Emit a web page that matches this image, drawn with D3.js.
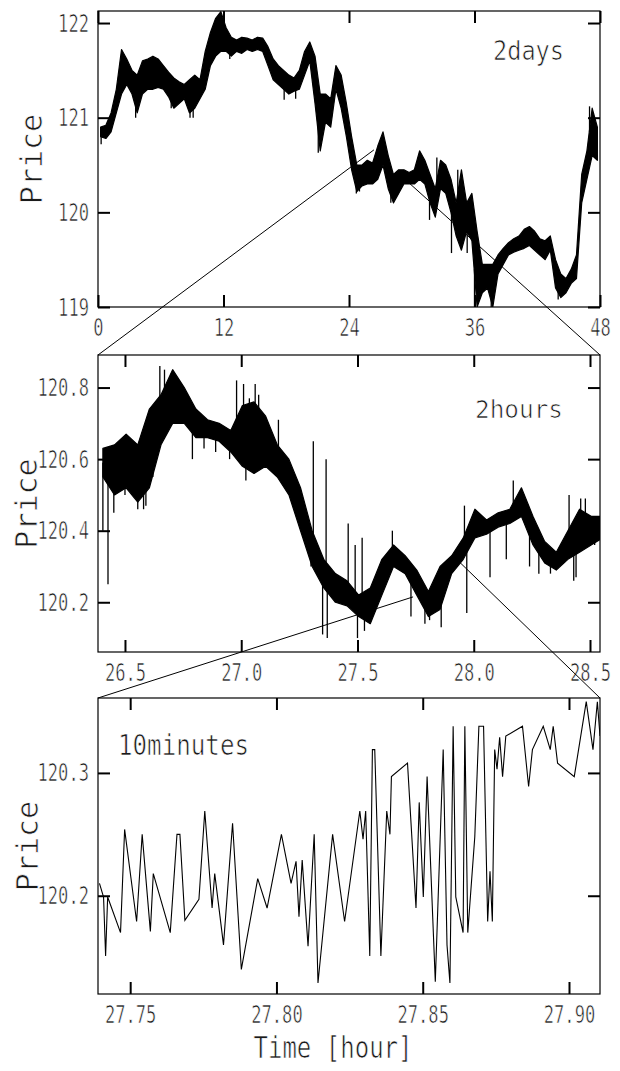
<!DOCTYPE html>
<html><head><meta charset="utf-8">
<script src="https://cdn.jsdelivr.net/npm/d3@7"></script>
<style>body{margin:0;background:#fff}svg{display:block}
text{paint-order:fill;stroke:#fff;stroke-width:0.7px}</style>
</head><body>
<svg id="chart" width="620" height="1071"></svg>
<script>
// ---- 2 days: half-hour low/high ranges of the tick price ----
const dayStart = 0, dayStep = 0.5;
const dayLow = [120.80,120.78,120.85,121.05,121.25,121.35,121.25,121.05,121.25,121.30,121.30,121.32,121.30,121.22,121.10,121.15,121.20,121.05,121.10,121.20,
  121.30,121.55,121.65,121.70,121.70,121.65,121.70,121.68,121.72,121.70,121.72,121.70,121.55,121.40,121.35,121.30,121.25,121.28,121.30,121.45,
  121.60,121.15,120.65,120.95,120.90,121.30,121.10,120.80,120.45,120.22,120.28,120.30,120.30,120.35,120.50,120.25,120.10,120.20,120.30,120.30,
  120.30,120.35,120.30,120.10,119.95,120.25,120.20,120.00,119.75,119.60,119.80,119.70,119.00,119.15,119.20,119.00,119.35,119.45,119.55,119.58,
  119.60,119.62,119.65,119.60,119.55,119.50,119.60,119.20,119.10,119.15,119.25,119.30,120.10,120.35,120.60,120.55];
const dayHigh = [120.90,120.92,121.05,121.30,121.72,121.62,121.50,121.45,121.60,121.62,121.65,121.62,121.55,121.48,121.42,121.38,121.35,121.40,121.45,121.40,
  121.70,121.90,122.05,122.12,121.95,121.85,121.82,121.85,121.84,121.82,121.85,121.84,121.75,121.62,121.55,121.50,121.45,121.42,121.50,121.70,
  121.80,121.65,121.25,121.25,121.20,121.55,121.45,121.15,120.80,120.50,120.50,120.55,120.52,120.70,120.85,120.60,120.40,120.45,120.45,120.42,
  120.45,120.65,120.55,120.40,120.25,120.55,120.50,120.35,120.10,120.45,120.10,120.20,119.80,119.45,119.45,119.45,119.55,119.62,119.68,119.72,
  119.75,119.82,119.85,119.80,119.72,119.70,119.75,119.50,119.35,119.30,119.40,119.55,120.40,120.65,121.10,120.90];
const daySpikeTime  = [0.3, 3.6, 7.0, 8.8, 9.1, 12.6, 17.8, 18.9, 21.06, 24.7, 25.0, 28.0, 31.7, 32.4, 33.8, 34.4, 35.3, 36.0, 37.6, 44.0, 47.0];
const daySpikePrice = [120.72,121.00,121.10,121.00,121.00,121.62,121.19,121.20,120.63,120.20,120.22,120.10,119.92,120.58,119.57,120.45,119.57,119.00,119.00,119.08,121.12];

// ---- 2 hours: 3-minute low/high ranges plus isolated spikes ----
const hourStart = 26.38, hourStep = 0.05;
const hourLow = [120.55,120.50,120.52,120.48,120.52,120.64,120.70,120.70,120.66,120.66,120.65,120.62,120.58,120.56,120.58,120.55,120.50,120.40,120.30,120.24,
  120.20,120.19,120.16,120.14,120.22,120.30,120.28,120.22,120.16,120.18,120.28,120.32,120.38,120.39,120.41,120.42,120.44,120.36,120.31,120.29,
  120.32,120.34,120.36,120.38];
const hourHigh = [120.63,120.64,120.67,120.64,120.74,120.78,120.85,120.80,120.74,120.71,120.70,120.68,120.75,120.76,120.72,120.64,120.60,120.52,120.40,120.32,
  120.28,120.26,120.22,120.24,120.32,120.36,120.33,120.29,120.23,120.30,120.33,120.38,120.46,120.43,120.45,120.46,120.52,120.44,120.37,120.34,
  120.40,120.46,120.44,120.44];
const hourSpikeTime  = [26.405,26.427,26.452,26.50,26.555,26.58,26.59,26.62,26.65,26.67,26.70,26.79,26.84,26.89,26.95,26.98,27.01,27.02,27.035,27.06,27.075,
  27.16,27.30,27.31,27.35,27.365,27.37,27.46,27.49,27.50,27.52,27.53,27.65,27.73,27.79,27.81,27.86,27.96,27.97,28.07,28.14,28.17,28.24,28.27,28.28,28.33,28.41,28.43,28.44,28.46,28.48,28.52];
const hourSpikePrice = [120.40,120.25,120.45,120.50,120.46,120.46,120.47,120.55,120.86,120.85,120.84,120.60,120.63,120.62,120.60,120.82,120.81,120.54,120.77,120.81,120.78,
  120.71,120.30,120.65,120.11,120.60,120.10,120.42,120.36,120.10,120.38,120.12,120.40,120.16,120.14,120.15,120.13,120.47,120.17,120.27,120.32,120.54,120.30,120.41,120.28,120.28,120.50,120.26,120.27,120.49,120.49,120.36];

// ---- 10 minutes: individual ticks ----
const minTime = [27.7395,27.7409,27.7416,27.7423,27.7467,27.7481,27.7522,27.7541,27.7569,27.7579,27.7637,27.7660,27.7670,27.7687,27.7735,27.7755,27.7780,27.7789,27.7819,27.7850,
  27.7880,27.7936,27.7968,27.8017,27.8050,27.8067,27.8077,27.8088,27.8108,27.8129,27.8142,27.8192,27.8233,27.8285,27.8296,27.8305,27.8319,27.8328,27.8336,27.8357,
  27.8377,27.8388,27.8393,27.8448,27.8477,27.8488,27.8502,27.8515,27.8543,27.8570,27.8583,27.8593,27.8604,27.8613,27.8638,27.8644,27.8654,27.8678,27.8692,27.8708,
  27.8722,27.8730,27.8738,27.8746,27.8754,27.8763,27.8773,27.8784,27.8841,27.8862,27.8875,27.8912,27.8936,27.8946,27.8961,27.9018,27.9059,27.9082,27.9097,27.9106];
const minPrice = [120.210,120.199,120.151,120.199,120.170,120.254,120.179,120.250,120.171,120.218,120.170,120.250,120.250,120.180,120.197,120.269,120.190,120.218,120.160,120.259,
  120.140,120.214,120.190,120.250,120.210,120.228,120.183,120.229,120.159,120.250,120.129,120.250,120.179,120.269,120.246,120.269,120.151,120.319,120.319,120.151,
  120.269,120.250,120.297,120.308,120.190,120.276,120.199,120.297,120.130,120.319,120.160,120.129,120.338,120.199,120.170,120.338,120.170,120.248,120.338,120.338,
  120.179,120.220,120.179,120.319,120.303,120.329,120.297,120.330,120.338,120.289,120.319,120.338,120.319,120.338,120.308,120.297,120.358,120.319,120.358,120.330];

// ---- axes ----
const dayTicksX = [0,12,24,36,48], dayTicksY = [119,120,121,122];
const hourTicksX = [26.5,27.0,27.5,28.0,28.5], hourTicksY = [120.2,120.4,120.6,120.8];
const minTicksX = [27.75,27.80,27.85,27.90], minTicksY = [120.2,120.3];

// zoom windows: [start time, end time, price at start, price at end]
const hourWindow = [26.384, 28.543, 120.66, 120.43];
const minWindow  = [27.739, 27.9106, 120.215, 120.33];

const svg = d3.select("#chart");
const FONT = "DejaVu Sans Mono";
const INK = "#1a1a1a";

const panels = [
  {top:11, bottom:307, x:[0,48], y:[119,122.127], tx:dayTicksX, ty:dayTicksY, fx:d3.format("d"), fy:d3.format("d"),
   title:"2days", titleX:493, titleY:60, titleW:71, titleSize:26, priceX:31},
  {top:355, bottom:652, x:[26.384,28.543], y:[120.061,120.891], tx:hourTicksX, ty:hourTicksY, fx:d3.format(".1f"), fy:d3.format(".1f"),
   title:"2hours", titleX:475, titleY:418, titleW:88, titleSize:25, priceX:26},
  {top:698, bottom:994, x:[27.739,27.9106], y:[120.12,120.361], tx:minTicksX, ty:minTicksY, fx:d3.format(".2f"), fy:d3.format(".1f"),
   title:"10minutes", titleX:118, titleY:755, titleW:131, titleSize:28, priceX:27}
];
const L = 98, R = 600;

panels.forEach(p => {
  p.xs = d3.scaleLinear().domain(p.x).range([L, R]);
  p.ys = d3.scaleLinear().domain(p.y).range([p.bottom, p.top]);
  const g = svg.append("g");
  p.g = g;
  const clipId = "clip" + p.top;
  svg.append("clipPath").attr("id", clipId).append("rect")
    .attr("x", L).attr("y", p.top).attr("width", R - L).attr("height", p.bottom - p.top);
  p.plot = g.append("g").attr("clip-path", `url(#${clipId})`);
});

function squeeze(sel, perChar) {
  sel.each(function () {
    const s = this.textContent;
    d3.select(this).attr("textLength", s.length * perChar).attr("lengthAdjust", "spacingAndGlyphs");
  });
}

// band drawing for the dense series
function drawBand(p, start, step, lo, hi, spikeT, spikeP) {
  const idx = d3.range(lo.length);
  const area = d3.area()
    .x(i => p.xs(start + i * step + step / 2))
    .y0(i => p.ys(lo[i])).y1(i => p.ys(hi[i]));
  p.plot.append("path").datum(idx).attr("d", area)
    .attr("fill", "#000").attr("stroke", "#000").attr("stroke-width", 1.2).attr("stroke-linejoin", "round");
  p.plot.selectAll("line.spike").data(spikeT).join("line").attr("class", "spike")
    .attr("x1", (t) => p.xs(t)).attr("x2", (t) => p.xs(t))
    .attr("y1", (t) => {
      const i = Math.max(0, Math.min(lo.length - 1, Math.floor((t - start) / step)));
      return p.ys((lo[i] + hi[i]) / 2);
    })
    .attr("y2", (t, k) => p.ys(spikeP[k]))
    .attr("stroke", "#000").attr("stroke-width", 1.3);
}

drawBand(panels[0], dayStart, dayStep, dayLow, dayHigh, daySpikeTime, daySpikePrice);
drawBand(panels[1], hourStart, hourStep, hourLow, hourHigh, hourSpikeTime, hourSpikePrice);

{
  const p = panels[2];
  const line = d3.line().x(i => p.xs(minTime[i])).y(i => p.ys(minPrice[i]));
  p.plot.append("path").datum(d3.range(minTime.length)).attr("d", line)
    .attr("fill", "none").attr("stroke", "#000").attr("stroke-width", 1.1).attr("stroke-linejoin", "miter");
}

// frames, ticks and labels
panels.forEach(p => {
  const g = p.g;
  const tick = 12;
  g.append("rect").attr("x", L).attr("y", p.top).attr("width", R - L).attr("height", p.bottom - p.top)
    .attr("fill", "none").attr("stroke", "#000").attr("stroke-width", 1.2);

  const ax = [
    g.append("g").attr("transform", `translate(${L},0)`).call(d3.axisLeft(p.ys).tickValues(p.ty).tickFormat(p.fy).tickSize(-tick).tickPadding(9)),
    g.append("g").attr("transform", `translate(${R},0)`).call(d3.axisRight(p.ys).tickValues(p.ty).tickFormat("").tickSize(-tick)),
    g.append("g").attr("transform", `translate(0,${p.bottom})`).call(d3.axisBottom(p.xs).tickValues(p.tx).tickFormat(p.fx).tickSize(-tick).tickPadding(11)),
    g.append("g").attr("transform", `translate(0,${p.top})`).call(d3.axisTop(p.xs).tickValues(p.tx).tickFormat("").tickSize(-tick))
  ];
  ax.forEach(a => {
    a.select(".domain").remove();
    a.selectAll("line").attr("stroke", "#000").attr("stroke-width", 2);
    a.selectAll("text").attr("font-family", FONT).attr("font-size", 25).attr("fill", INK);
  });
  squeeze(ax[0].selectAll("text"), 10.3);
  squeeze(ax[2].selectAll("text"), 10.3);

  g.append("text").text("Price")
    .attr("transform", `translate(${p.priceX + 11},${(p.top + p.bottom) / 2}) rotate(-90)`)
    .attr("text-anchor", "middle").attr("font-family", FONT).attr("font-size", 30).attr("fill", INK);

  g.append("text").text(p.title).attr("x", p.titleX).attr("y", p.titleY)
    .attr("font-family", FONT).attr("font-size", p.titleSize).attr("fill", INK)
    .attr("textLength", p.titleW).attr("lengthAdjust", "spacingAndGlyphs");
});

svg.append("text").text("Time [hour]").attr("x", 333).attr("y", 1058).attr("text-anchor", "middle")
  .attr("font-family", FONT).attr("font-size", 30).attr("fill", INK)
  .attr("textLength", 159).attr("lengthAdjust", "spacingAndGlyphs");

// connector lines from each zoom window to the panel below
function connect(upper, lower, w) {
  [[w[0], w[2], L], [w[1], w[3], R]].forEach(([t, price, xc]) => {
    svg.append("line")
      .attr("x1", upper.xs(t)).attr("y1", upper.ys(price))
      .attr("x2", xc).attr("y2", lower.top)
      .attr("stroke", "#000").attr("stroke-width", 1);
  });
}
connect(panels[0], panels[1], hourWindow);
connect(panels[1], panels[2], minWindow);
</script>
</body></html>
